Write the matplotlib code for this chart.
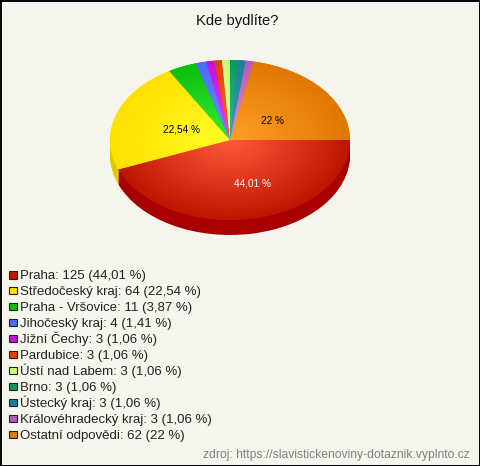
from matplotlib import pyplot as plt
from matplotlib.patches import Rectangle
import numpy as np

title = "Kde bydlíte?"
source = "zdroj: https://slavistickenoviny-dotaznik.vyplnto.cz"
categories = ["Praha", "Středočeský kraj", "Praha - Vršovice", "Jihočeský kraj",
              "Jižní Čechy", "Pardubice", "Ústí nad Labem", "Brno", "Ústecký kraj",
              "Královéhradecký kraj", "Ostatní odpovědi"]
counts = [125, 64, 11, 4, 3, 3, 3, 3, 3, 3, 62]
percents = ["44,01", "22,54", "3,87", "1,41", "1,06", "1,06", "1,06", "1,06", "1,06", "1,06", "22"]

# legend swatch colour / rim of the slice
colors = ["#bd1600", "#ffe000", "#0bbf0b", "#4a6cff", "#c410d8", "#e04000",
          "#c8ff78", "#0a9a5e", "#1a7f98", "#b85ab4", "#e07800"]
# centre of the slice
centers = ["#ff5a3c", "#ffff28", "#36f036", "#7090ff", "#f040ff", "#ff6a30",
           "#e0ffa0", "#30c088", "#40a0c0", "#e090e0", "#ffa028"]
side_red = "#a80000"
side_yellow = "#e0c800"
background = "#f5f5ed"

plt.rcParams["font.family"] = ["Liberation Sans", "DejaVu Sans"]
px = 0.72  # points per pixel at dpi 100

fig = plt.figure(figsize=(4.8, 4.66), dpi=100, facecolor=background)

# pie axes: full figure, one unit = 120 px across and 80 px down
ax = fig.add_axes([0, 0, 1, 1])
ax.patch.set_alpha(0)
xlim = (-230 / 120, 250 / 120)
ylim = (-326 / 80, 140 / 80)

side_colors = [side_red if i == 0 else side_yellow if i == 1 else c
               for i, c in enumerate(colors)]
for d in range(15, 0, -1):
    ax.pie(counts, colors=side_colors, startangle=0, counterclock=False,
           center=(0, -d / 80), radius=1, wedgeprops={"linewidth": 0.5, "edgecolor": "none"})

wedges, _ = ax.pie(counts, colors=colors, startangle=0, counterclock=False,
                   center=(0, 0), radius=1)

# radial gradient on each slice
xx, yy = np.meshgrid(np.linspace(-1, 1, 480), np.linspace(-1, 1, 320))
rr = np.clip(np.hypot(xx, yy), 0, 1)[..., None]
for wedge, inner, outer in zip(wedges, centers, colors):
    a = np.array(plt.matplotlib.colors.to_rgb(inner))
    b = np.array(plt.matplotlib.colors.to_rgb(outer))
    im = ax.imshow(a + (b - a) * rr, extent=(-1, 1, -1, 1), origin="lower",
                   aspect="auto", interpolation="bilinear", zorder=3)
    im.set_clip_path(wedge)

ax.set_xlim(*xlim)
ax.set_ylim(*ylim)
ax.set_aspect("auto")
ax.set_position([0, 0, 1, 1])
ax.set_axis_off()

# overlay in pixel coordinates for the texts and the legend
top = fig.add_axes([0, 0, 1, 1])
top.set_xlim(0, 480)
top.set_ylim(466, 0)
top.set_axis_off()
top.patch.set_alpha(0)

top.text(237, 25, title, ha="center", va="baseline", fontsize=14.7 * px, color="#111111")

top.text(252.5, 186, percents[0] + " %", ha="center", va="baseline", fontsize=10 * px, color="#ffffff")
top.text(181.5, 133, percents[1] + " %", ha="center", va="baseline", fontsize=10 * px, color="#000000")
top.text(272.5, 124, percents[-1] + " %", ha="center", va="baseline", fontsize=10 * px, color="#000000")

for i, (name, n, p, c) in enumerate(zip(categories, counts, percents, colors)):
    y = 279 + i * 15.95
    top.add_patch(Rectangle((9, y - 8), 7.5, 7.5, facecolor=c, edgecolor="#222222", linewidth=0.8))
    top.text(20, y, f"{name}: {n} ({p} %)", ha="left", va="baseline",
             fontsize=13.25 * px, color="#222222")

top.text(470, 458, source, ha="right", va="baseline", fontsize=12.15 * px, color="#808080")

# frame round the picture
top.add_patch(Rectangle((0.5, 0.5), 479, 465, fill=False, edgecolor="#000000", linewidth=1.4))

fig.savefig("out.png", dpi=100, facecolor=background)
